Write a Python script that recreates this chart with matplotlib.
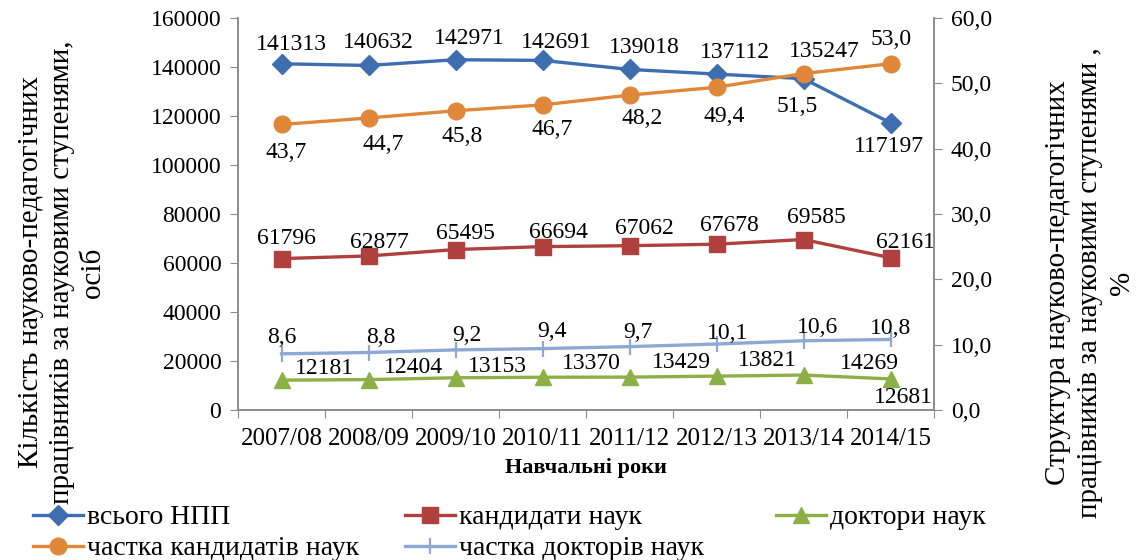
import matplotlib
matplotlib.use("Agg")
import matplotlib.pyplot as plt
import numpy as np

plt.rcParams['font.family'] = ['Liberation Serif', 'DejaVu Serif']

years = ['2007/08', '2008/09', '2009/10', '2010/11', '2011/12', '2012/13', '2013/14', '2014/15']
total_npp = [141313, 140632, 142971, 142691, 139018, 137112, 135247, 117197]
candidates = [61796, 62877, 65495, 66694, 67062, 67678, 69585, 62161]
doctors = [12181, 12404, 13153, 13370, 13429, 13821, 14269, 12681]
cand_share = [43.7, 44.7, 45.8, 46.7, 48.2, 49.4, 51.5, 53.0]
doct_share = [8.6, 8.8, 9.2, 9.4, 9.7, 10.1, 10.6, 10.8]

# label offsets in pixels (dx right, dy down) so the labels sit like in the report
npp_off = [(10, -19), (10, -23), (14, -21), (14, -18), (15, -22), (18, -22), (21, -27), (-2, 24)]
cand_off = [(5, -20), (11, -13), (10, -16), (16, -14), (15, -17), (13, -19), (13, -22), (15, -15)]
doct_off = [(43, -12), (45, -12), (42, -11), (49, -14), (52, -15), (51, -16), (66, -12), (13, 19)]
cshare_off = [(5, 28), (15, 27), (7, 26), (10, 25), (13, 23), (8, 29), (-6, 33), (1, -24)]
dshare_off = [(0, -16), (12, -15), (11, -14), (9, -17), (8, -14), (11, -11), (14, -13), (0, -11)]

c_blue = '#3E6DB0'
c_red = '#B0403D'
c_green = '#8CAF47'
c_orange = '#E0883A'
c_lblue = '#8EA8D6'
c_axis = '#8C8C8C'

fig = plt.figure(figsize=(11.43, 5.6), dpi=100)
ax = fig.add_axes([238 / 1143, 150 / 560, 696 / 1143, 392 / 560])
ax2 = ax.twinx()

x = np.arange(len(years))
lw = 2.4
h1, = ax.plot(x, total_npp, color=c_blue, lw=lw, marker='D', ms=10.5, label='всього НПП')
h2, = ax.plot(x, candidates, color=c_red, lw=lw, marker='s', ms=11, label='кандидати наук')
h3, = ax.plot(x, doctors, color=c_green, lw=lw, marker='^', ms=12, label='доктори наук')
h4, = ax2.plot(x, cand_share, color=c_orange, lw=lw, marker='o', ms=12, label='частка кандидатів наук')
h5, = ax2.plot(x, doct_share, color=c_lblue, lw=lw, marker='|', ms=12, mew=1.6,
               label='частка докторів наук')
ax2.set_zorder(ax.get_zorder() + 1)


def put_labels(axis, vals, offs, fmt):
    for i, (v, (dx, dy)) in enumerate(zip(vals, offs)):
        axis.annotate(fmt(v), (x[i], v), xytext=(dx, -dy), textcoords='offset pixels',
                      ha='center', va='center', fontsize=17, color='black')


put_labels(ax, total_npp, npp_off, lambda v: f'{v}')
put_labels(ax, candidates, cand_off, lambda v: f'{v}')
put_labels(ax, doctors, doct_off, lambda v: f'{v}')
put_labels(ax2, cand_share, cshare_off, lambda v: f'{v:.1f}'.replace('.', ','))
put_labels(ax2, doct_share, dshare_off, lambda v: f'{v:.1f}'.replace('.', ','))

# axes limits and ticks
ax.set_xlim(-0.5, len(years) - 0.5)
ax.set_ylim(0, 160000)
ax2.set_ylim(0, 60)
ax.set_yticks(np.arange(0, 160001, 20000))
ax.set_yticklabels([str(v) for v in range(0, 160001, 20000)])
ax2.set_yticks(np.arange(0, 61, 10))
ax2.set_yticklabels([f'{v:.1f}'.replace('.', ',') for v in range(0, 61, 10)])

ax.set_xticks(np.arange(-0.5, len(years), 1))
ax.set_xticklabels([])
ax.set_xticks(x, minor=True)
ax.set_xticklabels(years, minor=True, fontsize=18)
ax.tick_params(axis='x', which='major', direction='out', length=6, color=c_axis)
ax.tick_params(axis='x', which='minor', length=0, pad=13)
ax.tick_params(axis='y', direction='out', length=6, color=c_axis, labelsize=17, pad=6)
ax2.tick_params(axis='y', direction='out', length=6, color=c_axis, labelsize=17, pad=6)

for a in (ax, ax2):
    a.spines['top'].set_visible(False)
    for s in ('left', 'right', 'bottom'):
        a.spines[s].set_color(c_axis)
        a.spines[s].set_linewidth(1.2)

ax.set_xlabel('Навчальні роки', fontsize=16, fontweight='bold', labelpad=6)

fig.text(62 / 1143, 1 - 272 / 560,
         'Кількість науково-педагогічних\nпрацівників за науковими ступенями,\nосіб',
         rotation=90, ha='center', va='center', multialignment='center',
         fontsize=21, linespacing=1.25)
fig.text(1090 / 1143, 1 - 283 / 560,
         'Структура науково-педагогічних\nпрацівників за науковими ступенями ,\n%',
         rotation=90, ha='center', va='center', multialignment='center',
         fontsize=21, linespacing=1.3)

# legend in three columns under the plot
leg_kw = dict(loc='upper left', frameon=False, borderaxespad=0, borderpad=0,
              handlelength=1.8, handletextpad=0.15, labelspacing=0.2, fontsize=20)
for hs, xpos in (([h1, h4], 33), ([h2, h5], 405), ([h3], 776)):
    fig.legend(handles=hs, bbox_to_anchor=(xpos / 1143, 1 - 505 / 560), **leg_kw)

fig.savefig('out.png', dpi=100)
